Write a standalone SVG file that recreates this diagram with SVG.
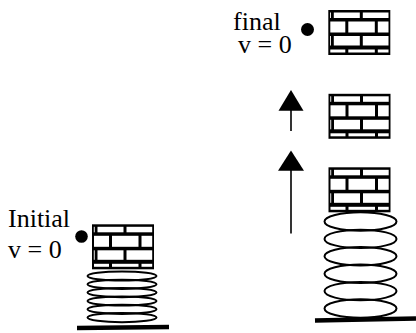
<svg xmlns="http://www.w3.org/2000/svg" xmlns:xlink="http://www.w3.org/1999/xlink" width="416" height="333" viewBox="0 0 416 333">
  <style>
    .label { font-family: "Liberation Serif", "Times New Roman", serif; font-size: 26px; fill: #000; }
    .coil { fill: none; stroke: #000; stroke-width: 2; }
    .ground { stroke: #000; stroke-width: 4.5; stroke-linecap: butt; }
    .shaft { stroke: #000; stroke-width: 1.6; }
    .head { fill: #000; }
    .mortar { fill: #000; }
    .brickface { fill: #fff; }
  </style>
  <defs>
    <!-- a 62 x 45 block of brick wall: black mortar with white bricks -->
    <g id="brick">
      <rect class="mortar" x="0" y="0" width="62" height="45"/>
      <!-- row 1 -->
      <rect class="brickface" x="1.8" y="2.5" width="0.9" height="5.5"/>
      <rect class="brickface" x="5.5" y="2.5" width="26" height="5.5"/>
      <rect class="brickface" x="34.5" y="2.5" width="25.7" height="5.5"/>
      <!-- row 2 -->
      <rect class="brickface" x="2" y="11.5" width="15" height="11"/>
      <rect class="brickface" x="20" y="11.5" width="26.5" height="11"/>
      <rect class="brickface" x="49.5" y="11.5" width="10.7" height="11"/>
      <!-- row 3 -->
      <rect class="brickface" x="1.8" y="26" width="0.9" height="9.5"/>
      <rect class="brickface" x="5.5" y="26" width="26" height="9.5"/>
      <rect class="brickface" x="34.5" y="26" width="25.7" height="9.5"/>
      <!-- row 4 -->
      <rect class="brickface" x="2" y="39.5" width="15" height="3"/>
      <rect class="brickface" x="20" y="39.5" width="26.5" height="3"/>
      <rect class="brickface" x="49.5" y="39.5" width="10.7" height="3"/>
    </g>
  </defs>

  <rect width="416" height="333" fill="#fff"/>

  <!-- initial state: compressed spring with block resting on it -->
  <g id="initial-label">
    <text class="label" x="8" y="226.5">Initial</text>
    <text class="label" x="8" y="257.5">v = 0</text>
    <circle cx="81.5" cy="236.5" r="6.3" fill="#000"/>
  </g>
  <g id="initial-spring">
    <ellipse class="coil" cx="122" cy="276" rx="34.5" ry="4.6"/>
    <ellipse class="coil" cx="122" cy="284.3" rx="34.5" ry="4.6"/>
    <ellipse class="coil" cx="122" cy="292.6" rx="34.5" ry="4.6"/>
    <ellipse class="coil" cx="122" cy="301" rx="34.5" ry="4.6"/>
    <ellipse class="coil" cx="122" cy="309.3" rx="34.5" ry="4.6"/>
    <ellipse class="coil" cx="122" cy="317.6" rx="34.5" ry="4.6"/>
    <line class="ground" x1="77" y1="328" x2="169" y2="327"/>
  </g>
  <g id="initial-brick">
    <use xlink:href="#brick" href="#brick" x="92" y="224.3"/>
  </g>

  <!-- released state: extended spring and the block rising -->
  <g id="launch-spring">
    <ellipse class="coil" cx="360.5" cy="221.5" rx="36" ry="9.2"/>
    <ellipse class="coil" cx="360.5" cy="238.9" rx="36" ry="9.2"/>
    <ellipse class="coil" cx="360.5" cy="256.3" rx="36" ry="9.2"/>
    <ellipse class="coil" cx="360.5" cy="273.7" rx="36" ry="9.2"/>
    <ellipse class="coil" cx="360.5" cy="291.1" rx="36" ry="9.2"/>
    <ellipse class="coil" cx="360.5" cy="308.5" rx="36" ry="9.2"/>
    <line class="ground" x1="315" y1="320.5" x2="416" y2="318.5"/>
  </g>
  <g id="launch-brick">
    <use xlink:href="#brick" href="#brick" x="328.5" y="167.3"/>
  </g>
  <g id="rising-brick">
    <use xlink:href="#brick" href="#brick" x="328.5" y="93.8"/>
  </g>
  <g id="final-brick">
    <use xlink:href="#brick" href="#brick" x="328.3" y="10"/>
  </g>
  <g id="final-label">
    <text class="label" x="233" y="30">final</text>
    <text class="label" x="238" y="53">v = 0</text>
    <circle cx="307.5" cy="29.5" r="6.5" fill="#000"/>
  </g>

  <!-- upward motion arrows -->
  <g id="connectors">
    <line class="shaft" x1="291" y1="110" x2="291" y2="131"/>
    <polygon class="head" points="291,90 278.5,110.7 303.5,110.7"/>
    <line class="shaft" x1="291" y1="170" x2="291" y2="233.5"/>
    <polygon class="head" points="291,150.5 278,170.7 304,170.7"/>
  </g>
</svg>
